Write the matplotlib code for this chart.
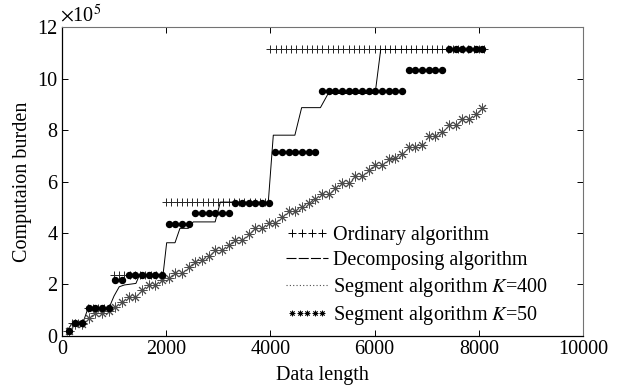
import numpy as np
import matplotlib
matplotlib.use("Agg")
import matplotlib.pyplot as plt
from matplotlib.lines import Line2D
from matplotlib.legend_handler import HandlerLine2D

plt.rcParams['font.family'] = ['Liberation Serif', 'DejaVu Serif']
plt.rcParams['mathtext.fontset'] = 'stix'

# Ordinary algorithm: step levels (x10^5) and how many 100-spaced points sit on each
ord_x = np.arange(100, 8200, 100)
ord_levels = [0.21, 0.49, 1.07, 2.37, 5.2, 11.13]
ord_counts = [1, 3, 5, 10, 20, 42]
ord_y = np.repeat(ord_levels, ord_counts)

# Decomposing algorithm: polyline
dec_x = [100, 200, 400, 500, 900, 1000, 1100, 1200, 1420, 1490, 1940, 2010, 2170,
         2265, 2425, 2520, 2940, 3040, 3960, 4056, 4470, 4600, 4960, 5110, 6010,
         6117, 8100]
dec_y = [0.21, 0.49, 0.49, 1.07, 1.07, 1.55, 1.91, 1.98, 2.04, 2.37, 2.37, 3.62, 3.62,
         4.18, 4.18, 4.43, 4.43, 5.2, 5.2, 7.8, 7.8, 8.87, 8.87, 9.42, 9.42,
         11.13, 11.13]

# Segment algorithms, data lengths 128, 256, ..., 8064
seg_x = np.arange(128, 8192, 128)
k400_levels = [0.19, 0.52, 1.07, 2.17, 2.37, 4.35, 4.76, 5.18, 7.15, 9.52, 10.35, 11.13]
k400_counts = [1, 2, 4, 2, 6, 4, 6, 6, 7, 13, 6, 6]
k400_y = np.repeat(k400_levels, k400_counts)

k50_y = [0.2, 0.47, 0.47, 0.69, 0.88, 0.88, 0.97, 1.11, 1.33, 1.52,
         1.52, 1.78, 1.98, 1.98, 2.17, 2.24, 2.46, 2.46, 2.69, 2.88,
         2.95, 3.10, 3.34, 3.34, 3.52, 3.74, 3.74, 3.97, 4.19, 4.19,
         4.40, 4.40, 4.63, 4.86, 4.86, 5.0, 5.18, 5.31, 5.5, 5.53,
         5.75, 5.95, 5.95, 6.21, 6.21, 6.44, 6.66, 6.66, 6.87, 6.90,
         7.07, 7.33, 7.33, 7.43, 7.75, 7.75, 7.92, 8.21, 8.21, 8.42,
         8.42, 8.64, 8.86]

fig = plt.figure(figsize=(6.19, 3.87), dpi=100)
ax = fig.add_axes([0.100, 0.132, 0.842, 0.798])

ax.plot(ord_x, ord_y, ls='none', color='0.15', marker='+', ms=5.5, mew=0.7)
ax.plot(dec_x, dec_y, color='k', lw=0.7)
ax.plot(seg_x, k50_y, ls='none', marker=(8, 2, 0), ms=7, mew=0.7, color='0.3')
ax.plot(seg_x, k400_y, ls='none', marker='o', ms=4.3, color='k')

ax.set_xlim(0, 10000)
ax.set_ylim(0, 12)
ax.set_xticks(range(0, 10001, 2000))
ax.set_yticks(range(0, 13, 2))
ax.tick_params(direction='in', top=True, right=True, labelsize=14.5, length=4, width=0.7, pad=3)
for side in ['top', 'right']:
    ax.spines[side].set_color('0.45')
    ax.spines[side].set_linewidth(0.8)
for side in ['left', 'bottom']:
    ax.spines[side].set_linewidth(0.9)

ax.set_xlabel('Data length', fontsize=14.5, labelpad=5)
ax.set_ylabel('Computaion burden', fontsize=14.5, labelpad=4)
ax.text(-0.003, 1.0, r'$\times$10$^5$', transform=ax.transAxes, ha='left', va='bottom', fontsize=14.5)

h_ord = Line2D([], [], ls='none', marker='+', ms=6, mew=0.7, color='k')
h_dec = Line2D([], [], ls=(0, (9, 2)), lw=0.8, color='k')
h_400 = Line2D([], [], ls=(0, (1, 2)), lw=0.8, color='0.3')
h_50 = Line2D([], [], ls='none', marker=(8, 2, 0), ms=4, mew=0.6, color='k')
ax.legend([h_ord, h_dec, h_400, h_50],
          ['Ordinary algorithm', 'Decomposing algorithm',
           r'Segment algorithm $K$=400', r'Segment algorithm $K$=50'],
          handler_map={h_ord: HandlerLine2D(numpoints=4), h_50: HandlerLine2D(numpoints=5)},
          loc='upper left', bbox_to_anchor=(0.43, 0.355), frameon=False, fontsize=14.5,
          handlelength=2.1, handletextpad=0.25, labelspacing=0.28, borderpad=0, borderaxespad=0)

fig.savefig('out.png', dpi=100)
